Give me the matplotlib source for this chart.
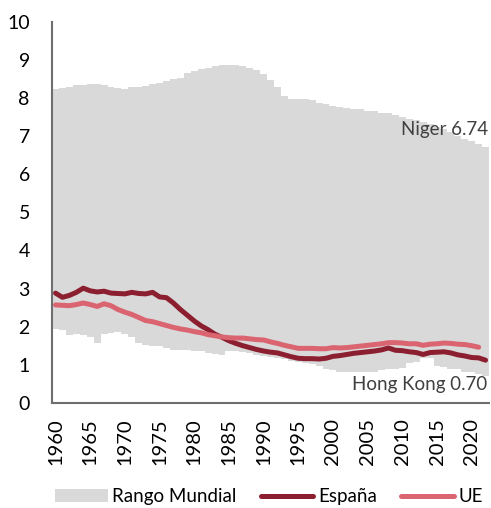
import numpy as np
import matplotlib
matplotlib.use('Agg')
import matplotlib.pyplot as plt
from matplotlib.patches import Patch
from matplotlib.lines import Line2D

plt.rcParams['font.family'] = ['Lato', 'DejaVu Sans']

years = np.arange(1960, 2023)

# world maximum fertility rate (top of grey band)
world_max = [8.23, 8.27, 8.30, 8.33, 8.35, 8.36, 8.36, 8.33, 8.29, 8.26,
             8.24, 8.28, 8.30, 8.32, 8.37, 8.40, 8.46, 8.50, 8.52, 8.67,
             8.71, 8.76, 8.80, 8.84, 8.86, 8.86, 8.86, 8.84, 8.80, 8.74,
             8.62, 8.48, 8.30, 8.06, 7.98, 7.97, 7.97, 7.95, 7.87, 7.84,
             7.79, 7.77, 7.75, 7.72, 7.70, 7.67, 7.65, 7.62, 7.60, 7.55,
             7.50, 7.46, 7.42, 7.37, 7.31, 7.25, 7.18, 7.10, 7.00, 6.93,
             6.87, 6.80, 6.72]

# world minimum fertility rate (bottom of grey band)
world_min = [1.93, 1.92, 1.78, 1.80, 1.78, 1.74, 1.57, 1.80, 1.83, 1.86,
             1.80, 1.74, 1.58, 1.51, 1.48, 1.48, 1.44, 1.40, 1.40, 1.38,
             1.36, 1.36, 1.32, 1.28, 1.26, 1.35, 1.35, 1.33, 1.30, 1.25,
             1.22, 1.20, 1.18, 1.15, 1.10, 1.06, 1.04, 1.02, 0.98, 0.90,
             0.85, 0.82, 0.80, 0.80, 0.80, 0.80, 0.82, 0.86, 0.88, 0.88,
             0.92, 1.05, 1.07, 1.17, 1.17, 0.97, 0.95, 0.88, 0.88, 0.82,
             0.80, 0.75, 0.70]

espana = [2.88, 2.77, 2.82, 2.90, 3.01, 2.94, 2.91, 2.93, 2.88, 2.87,
          2.86, 2.90, 2.87, 2.86, 2.90, 2.78, 2.76, 2.62, 2.45, 2.30,
          2.15, 2.02, 1.92, 1.80, 1.72, 1.63, 1.56, 1.50, 1.45, 1.40,
          1.36, 1.33, 1.31, 1.26, 1.21, 1.17, 1.16, 1.16, 1.15, 1.17,
          1.22, 1.24, 1.27, 1.30, 1.32, 1.34, 1.36, 1.39, 1.44, 1.38,
          1.37, 1.34, 1.32, 1.27, 1.32, 1.33, 1.34, 1.31, 1.26, 1.23,
          1.19, 1.18, 1.12]

ue_years = np.arange(1960, 2022)
ue = [2.57, 2.56, 2.55, 2.58, 2.62, 2.58, 2.53, 2.60, 2.55, 2.45,
      2.38, 2.32, 2.24, 2.16, 2.13, 2.08, 2.03, 1.98, 1.94, 1.91,
      1.87, 1.84, 1.79, 1.76, 1.73, 1.71, 1.70, 1.70, 1.68, 1.66,
      1.65, 1.60, 1.56, 1.51, 1.47, 1.43, 1.43, 1.43, 1.42, 1.42,
      1.45, 1.44, 1.45, 1.47, 1.49, 1.51, 1.53, 1.55, 1.58, 1.58,
      1.57, 1.55, 1.55, 1.51, 1.54, 1.55, 1.57, 1.56, 1.54, 1.53,
      1.50, 1.46]

grey = '#d9d9d9'
red_es = '#8c1f2f'
red_ue = '#da6470'

fig = plt.figure(figsize=(4.91, 5.08), dpi=100)
ax = fig.add_axes([0.106, 0.207, 0.89, 0.75])

wmax = np.array(world_max)
wmin = np.array(world_min)
ax.bar(years, wmax - wmin, bottom=wmin, width=1.0, color=grey, linewidth=0)
ax.plot(years, espana, color=red_es, lw=3.6, solid_capstyle='round', solid_joinstyle='round')
ax.plot(ue_years, ue, color=red_ue, lw=3.6, solid_capstyle='round', solid_joinstyle='round')

ax.text(2022.3, 7.17, 'Niger 6.74', ha='right', va='center', fontsize=13.5, color='#404040')
ax.text(2022.3, 0.47, 'Hong Kong 0.70', ha='right', va='center', fontsize=13.5, color='#404040')

ax.set_xlim(1959.5, 2022.5)
ax.set_ylim(0, 10)
ax.set_yticks(range(0, 11))
ax.set_xticks(range(1960, 2021, 5))
ax.set_xticklabels([str(y) for y in range(1960, 2021, 5)], rotation=90, fontsize=14.5)
ax.tick_params(axis='y', length=0, pad=16, labelsize=14)
ax.tick_params(axis='x', length=0, pad=11)

for s in ['top', 'right']:
    ax.spines[s].set_visible(False)
for s in ['left', 'bottom']:
    ax.spines[s].set_color('#6e6e6e')
    ax.spines[s].set_linewidth(1.5)

handles = [Patch(facecolor=grey, edgecolor='none'),
           Line2D([], [], color=red_es, lw=3.6, solid_capstyle='round'),
           Line2D([], [], color=red_ue, lw=3.6, solid_capstyle='round')]
fig.legend(handles, ['Rango Mundial', 'España', 'UE'], ncol=3, loc='center',
           bbox_to_anchor=(0.548, 0.022), frameon=False, fontsize=13.5,
           handlelength=2.8, handletextpad=0.25, columnspacing=1.3)

fig.savefig('out.png', dpi=100)
